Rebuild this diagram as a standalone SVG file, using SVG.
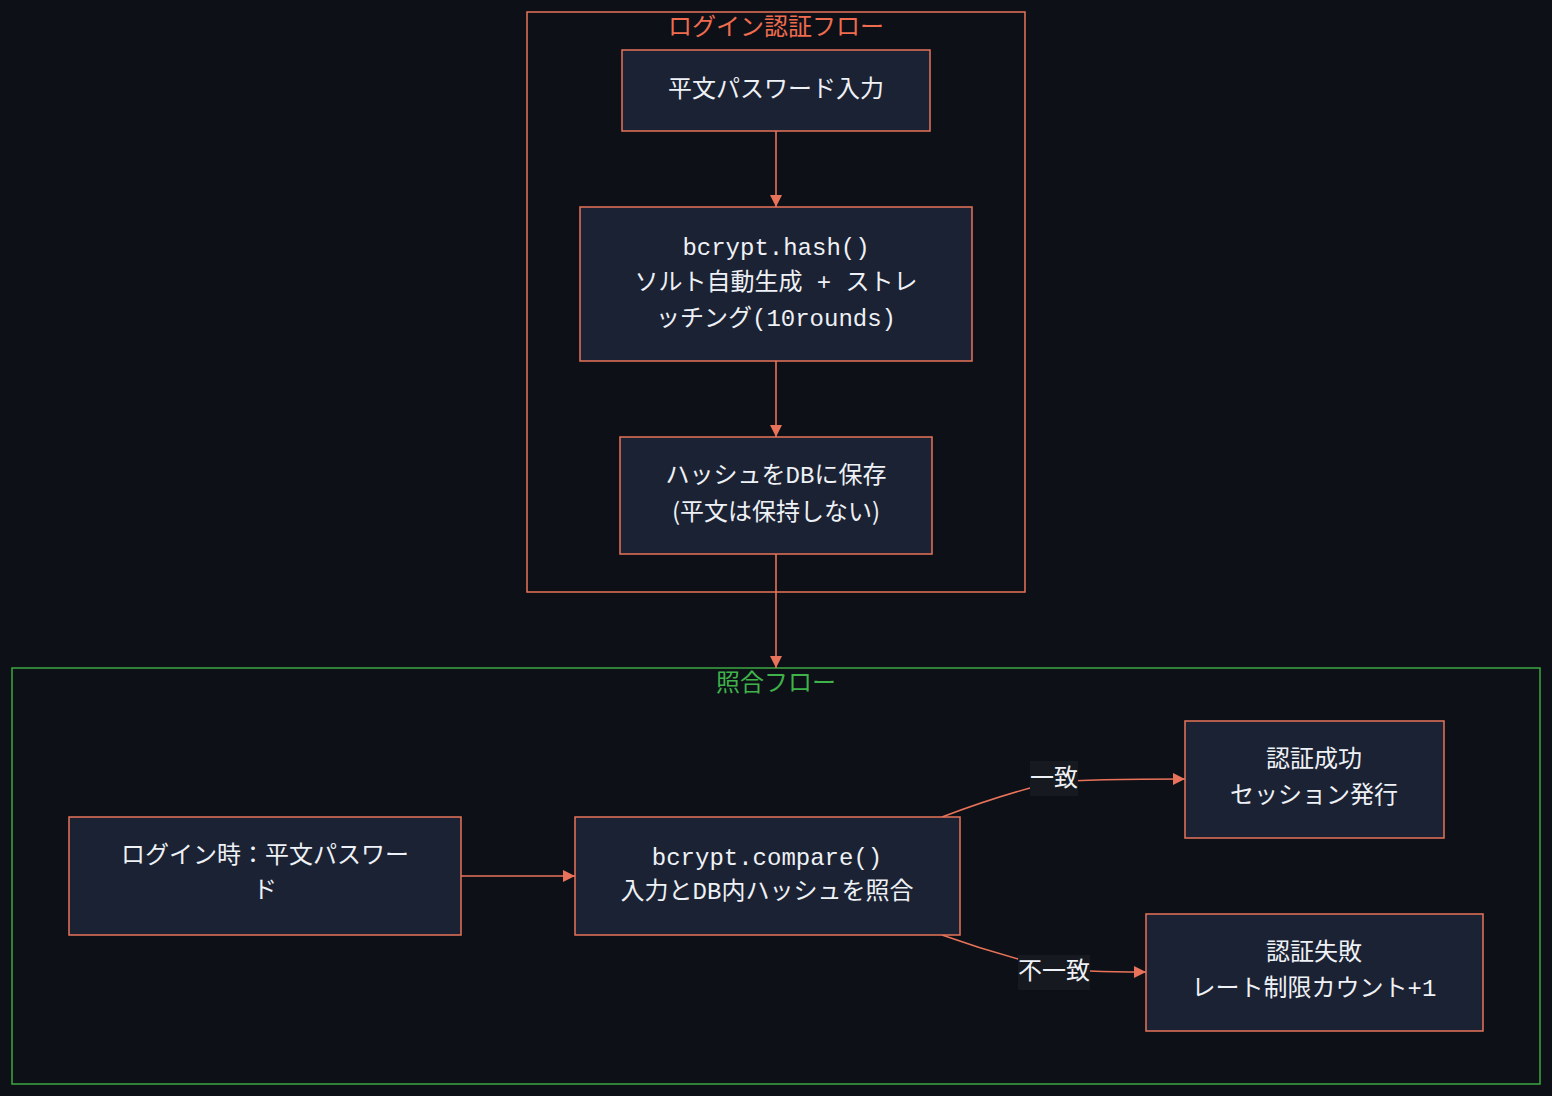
<svg xmlns="http://www.w3.org/2000/svg" width="1568" height="1108" viewBox="0 0 1568 1108">
<defs>
<style>
.bg{fill:#0d1017}
.cl1{fill:none;stroke:#e8735a;stroke-width:1.5}
.cl2{fill:none;stroke:#3aa640;stroke-width:1.5}
.node rect{fill:#1b2234;stroke:#e8735a;stroke-width:1.5}
.t{font-family:"Noto Sans CJK JP","Noto Sans",sans-serif;font-size:24px;fill:#eef1f5;text-anchor:middle}
.m{font-family:"Liberation Mono","DejaVu Sans Mono",monospace;font-size:24px}
.ct1{font-family:"Noto Sans CJK JP",sans-serif;font-size:24px;fill:#ef6c4f;text-anchor:middle}
.ct2{font-family:"Noto Sans CJK JP",sans-serif;font-size:24px;fill:#3fb24a;text-anchor:middle}
.e{fill:none;stroke:#e8735a;stroke-width:1.6}
.lb{fill:#161a20}
</style>
<marker id="ah" viewBox="0 0 12 12" refX="12" refY="6" markerWidth="12" markerHeight="12" markerUnits="userSpaceOnUse" orient="auto">
<path d="M0,0 L12,6 L0,12 z" fill="#e8735a"/>
</marker>
</defs>
<rect class="bg" x="0" y="0" width="1552" height="1096"/>

<g id="cluster-login">
<rect class="cl1" x="527" y="12" width="498" height="580"/>
<text class="ct1" x="776" y="35">ログイン認証フロー</text>
</g>
<g id="cluster-compare">
<rect class="cl2" x="12" y="668" width="1528" height="416"/>
<text class="ct2" x="776" y="691">照合フロー</text>
</g>

<g id="edges">
<path class="e" d="M776,131 L776,207" marker-end="url(#ah)"/>
<path class="e" d="M776,361 L776,437" marker-end="url(#ah)"/>
<path class="e" d="M776,554 L776,668" marker-end="url(#ah)"/>
<path class="e" d="M461,876 L575,876" marker-end="url(#ah)"/>
<path class="e" d="M942,817 Q1000,795 1053,782 Q1090,779 1185,779" marker-end="url(#ah)"/>
<path class="e" d="M942,935 Q995,954 1053,968 Q1080,972 1146,972" marker-end="url(#ah)"/>
<rect class="lb" x="1030" y="761" width="48" height="35"/>
<text class="t" x="1054" y="786">一致</text>
<rect class="lb" x="1018" y="955" width="72" height="35"/>
<text class="t" x="1054" y="979">不一致</text>
</g>

<g id="n1" class="node">
<rect x="622" y="50" width="308" height="81"/>
<text class="t" x="776" y="97">平文パスワード入力</text>
</g>
<g id="n2" class="node">
<rect x="580" y="207" width="392" height="154"/>
<text class="t" x="776" y="255"><tspan class="m">bcrypt.hash()</tspan></text>
<text class="t" x="776" y="290">ソルト自動生成<tspan class="m"> + </tspan>ストレ</text>
<text class="t" x="776" y="326">ッチング<tspan class="m">(10rounds)</tspan></text>
</g>
<g id="n3" class="node">
<rect x="620" y="437" width="312" height="117"/>
<text class="t" x="776" y="483">ハッシュを<tspan class="m">DB</tspan>に保存</text>
<text class="t" x="776" y="520">(平文は保持しない)</text>
</g>
<g id="n4" class="node">
<rect x="69" y="817" width="392" height="118"/>
<text class="t" x="265" y="863">ログイン時：平文パスワー</text>
<text class="t" x="265" y="898">ド</text>
</g>
<g id="n5" class="node">
<rect x="575" y="817" width="385" height="118"/>
<text class="t" x="767" y="865"><tspan class="m">bcrypt.compare()</tspan></text>
<text class="t" x="767" y="899">入力と<tspan class="m">DB</tspan>内ハッシュを照合</text>
</g>
<g id="n6" class="node">
<rect x="1185" y="721" width="259" height="117"/>
<text class="t" x="1314" y="767">認証成功</text>
<text class="t" x="1314" y="803">セッション発行</text>
</g>
<g id="n7" class="node">
<rect x="1146" y="914" width="337" height="117"/>
<text class="t" x="1314" y="960">認証失敗</text>
<text class="t" x="1314" y="996">レート制限カウント<tspan class="m">+1</tspan></text>
</g>
</svg>
